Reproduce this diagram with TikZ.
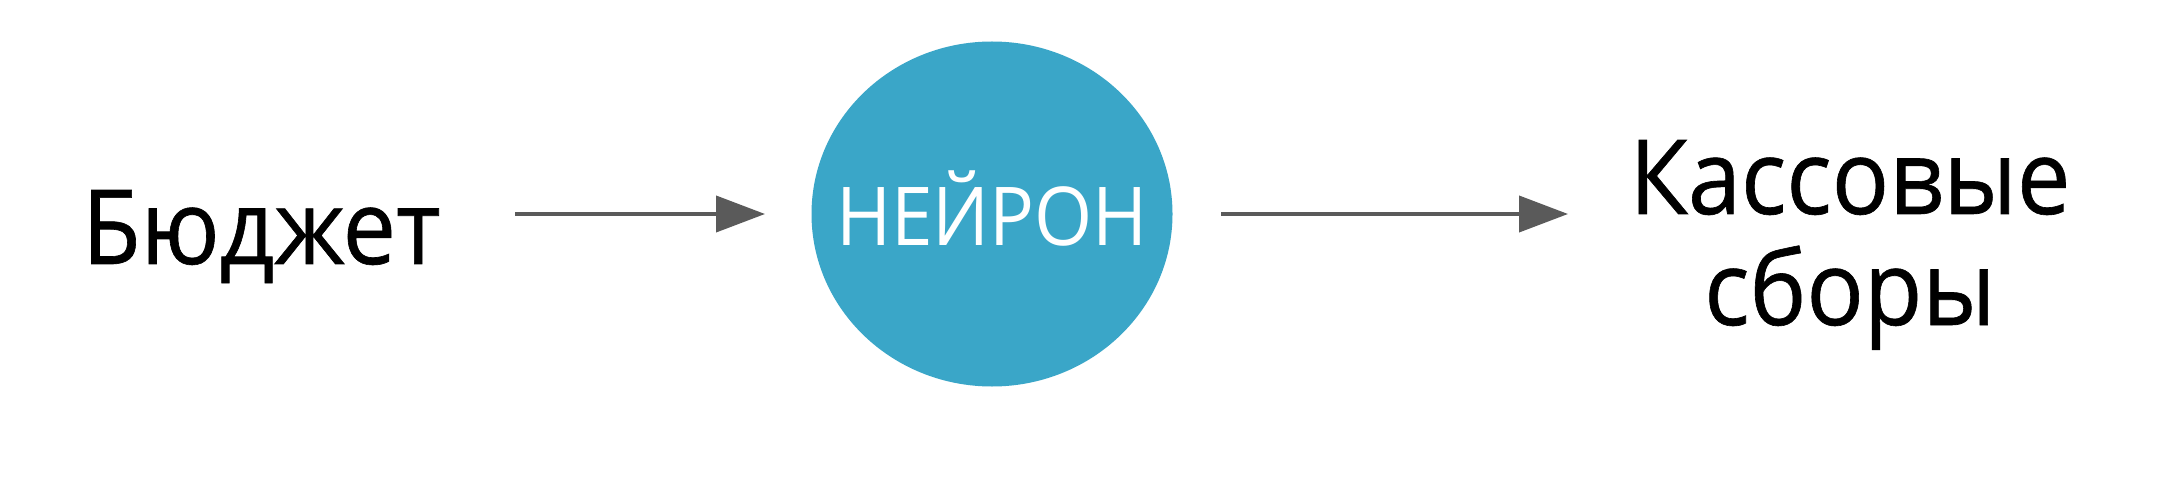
\documentclass[tikz,border=0pt]{standalone}
\usepackage{fontspec}
\setmainfont{Open Sans}
\newfontfamily\lblfont[FakeStretch=0.92,FakeBold=0.6]{Open Sans}
\newfontfamily\neurfont[FakeStretch=0.92]{Open Sans}
\usetikzlibrary{arrows.meta,shapes.geometric}
\definecolor{neuron}{HTML}{3AA6C8}
\definecolor{arrgray}{HTML}{5A5A5A}
\begin{document}
\begin{tikzpicture}[x=1bp,y=-1bp,
  lbl/.style={inner sep=0pt, font=\lblfont\fontsize{104}{111}\selectfont, text=black},
  arr/.style={draw=arrgray, line width=4bp, -{Triangle[length=49bp,width=36bp]}},
  neur/.style={ellipse, fill=neuron, minimum width=361bp, minimum height=345bp, inner sep=0pt}]
\useasboundingbox[fill=white] (0,0) rectangle (2178,480);
\node[neur] (c) at (992,214) {};
\node[inner sep=0pt, anchor=base, text=white, font=\neurfont\fontsize{81.5}{81.5}\selectfont] (t) at (992,246) {НЕЙРОН};
\node[lbl, anchor=base west] (b) at (82,264) {Бюджет};
\node[lbl, anchor=base] (k1) at (1850,214) {Кассовые};
\node[lbl, anchor=base] (k2) at (1850,325) {сборы};
\coordinate (a1s) at (515,214);
\coordinate (a1e) at (765,214);
\coordinate (a2s) at (1221,214);
\coordinate (a2e) at (1568,214);
\draw[arr] (a1s) -- (a1e);
\draw[arr] (a2s) -- (a2e);
\end{tikzpicture}
\end{document}
